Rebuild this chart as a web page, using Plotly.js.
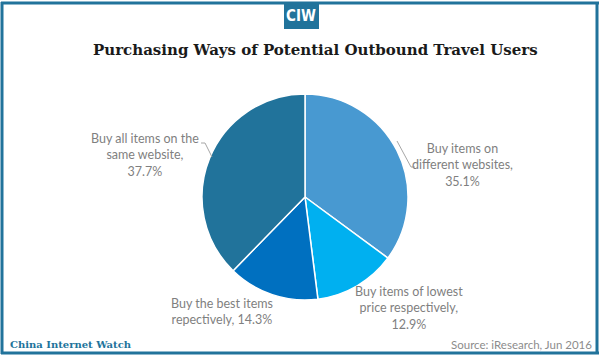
<!DOCTYPE html>
<html>
<head>
<meta charset="utf-8">
<script src="https://cdn.plot.ly/plotly-3.0.1.min.js"></script>
<style>html,body{margin:0;padding:0;background:#fff;}#chart{width:600px;height:356px;}</style>
</head>
<body>
<div id="chart"></div>
<script>
// Data
const categories = [
  "Buy items on different websites",
  "Buy items of lowest price respectively",
  "Buy the best items repectively",
  "Buy all items on the same website"
];
const values = [35.1, 12.9, 14.3, 37.7];
const sliceColors = ["#4899D1", "#00B0F0", "#0070C0", "#21739B"];
const labelTexts = [
  "Buy items on<br>different websites,<br>" + values[0] + "%",
  "Buy items of lowest<br>price respectively,<br>" + values[1] + "%",
  "Buy the best items<br>repectively, " + values[2] + "%",
  "Buy all items on the<br>same website,<br>" + values[3] + "%"
];

const W = 600, H = 356;
const px = x => x / W;
const py = y => 1 - y / H;

const cx = 305, cy = 197, r = 103;
const labelFont = {family: "Lato, 'DejaVu Sans', sans-serif", size: 12.5, color: "#7F7F7F"};
const teal = "#21739B";

const trace = {
  type: "pie",
  labels: categories,
  values: values,
  marker: {colors: sliceColors, line: {color: "#FFFFFF", width: 1.5}},
  sort: false,
  direction: "clockwise",
  rotation: 0,
  textinfo: "none",
  hoverinfo: "label+percent",
  showlegend: false,
  domain: {x: [px(cx - r), px(cx + r)], y: [py(cy + r), py(cy - r)]}
};

// label positions (layout)
const labelPos = [
  {x: 462, y: 165},
  {x: 409, y: 308},
  {x: 222, y: 311},
  {x: 145, y: 155}
];

const annotations = labelTexts.map((t, i) => ({
  xref: "paper", yref: "paper",
  x: px(labelPos[i].x), y: py(labelPos[i].y),
  xanchor: "center", yanchor: "middle",
  text: t, showarrow: false, align: "center",
  font: labelFont
}));

annotations.push({
  xref: "paper", yref: "paper", x: px(316), y: py(50),
  xanchor: "center", yanchor: "middle",
  text: "<b>Purchasing Ways of Potential Outbound Travel Users</b>",
  showarrow: false,
  font: {family: "'DejaVu Serif', serif", size: 15, color: "#1a1a1a"}
});
annotations.push({
  xref: "paper", yref: "paper", x: px(301), y: py(16),
  xanchor: "center", yanchor: "middle",
  text: "<b>CIW</b>", showarrow: false,
  font: {family: "'Liberation Sans Narrow', 'DejaVu Sans Condensed', sans-serif", size: 15, color: "#FFFFFF"}
});
annotations.push({
  xref: "paper", yref: "paper", x: px(8), y: py(344),
  xanchor: "left", yanchor: "middle",
  text: "<b>China Internet Watch</b>", showarrow: false,
  font: {family: "'DejaVu Serif', serif", size: 10, color: teal}
});
annotations.push({
  xref: "paper", yref: "paper", x: px(594), y: py(344),
  xanchor: "right", yanchor: "middle",
  text: "Source: iResearch, Jun 2016", showarrow: false,
  font: {family: "Lato, 'DejaVu Sans', sans-serif", size: 11.5, color: "#8C8C8C"}
});

const lineStyle = {color: "#A6A6A6", width: 1};
function pathPx(pts) {
  return pts.map((p, i) => (i ? "L" : "M") + px(p[0]) + "," + py(p[1])).join(" ");
}
const shapes = [
  // frame
  {type: "line", xref: "paper", yref: "paper", x0: px(1), x1: px(599), y0: py(3), y1: py(3), line: {color: teal, width: 3}},
  {type: "line", xref: "paper", yref: "paper", x0: px(2), x1: px(2), y0: py(2), y1: py(354), line: {color: teal, width: 3}},
  {type: "line", xref: "paper", yref: "paper", x0: px(597), x1: px(597), y0: py(2), y1: py(354), line: {color: teal, width: 3}},
  {type: "line", xref: "paper", yref: "paper", x0: px(1), x1: px(599), y0: py(353), y1: py(353), line: {color: teal, width: 3}},
  // logo box
  {type: "rect", xref: "paper", yref: "paper", x0: px(284), x1: px(319), y0: py(3), y1: py(29), fillcolor: teal, line: {width: 0}},
  // leader lines
  {type: "path", xref: "paper", yref: "paper", path: pathPx([[397, 141], [411, 167], [415, 167]]), line: lineStyle},
  {type: "path", xref: "paper", yref: "paper", path: pathPx([[201, 143], [205, 143], [212, 157]]), line: lineStyle}
];

const layout = {
  width: W, height: H,
  margin: {l: 0, r: 0, t: 0, b: 0},
  paper_bgcolor: "#FFFFFF",
  showlegend: false,
  annotations: annotations,
  shapes: shapes
};

Plotly.newPlot("chart", [trace], layout, {displayModeBar: false, staticPlot: true});
</script>
</body>
</html>
